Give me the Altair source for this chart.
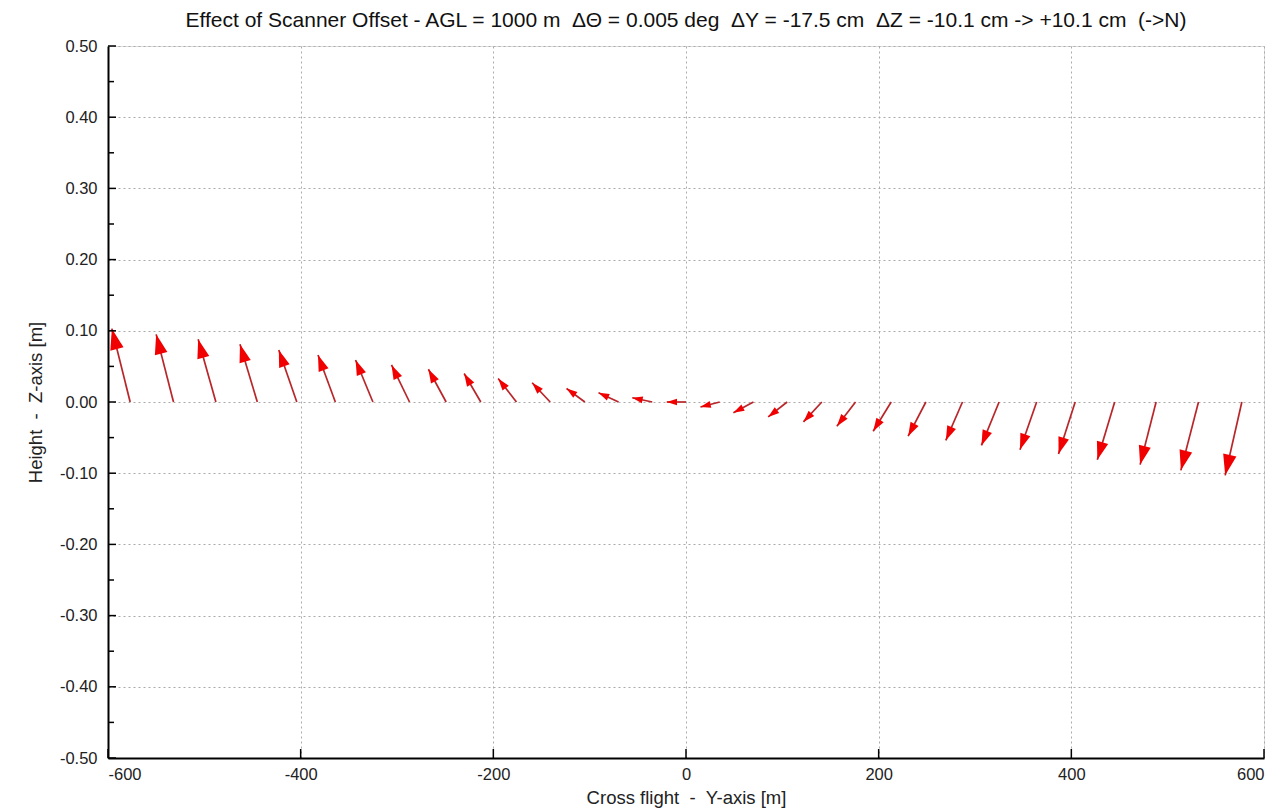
import math
import altair as alt
import pandas as pd

# ---- data ----
base_y = [-577, -532, -488, -445, -404, -364, -325, -287, -249, -213, -176, -141, -105, -70, -35,
          0, 35, 70, 105, 141, 176, 213, 249, 287, 325, 364, 404, 445, 488, 532, 577]
shift_y = [-19.0, -18.0, -18.4, -18.0, -18.7, -18.0, -18.0, -18.7, -18.4, -17.3, -19.0, -18.7, -19.0, -20.8, -20.8,
           -20.0, -20.0, -20.8, -19.7, -19.1, -19.4, -18.7, -18.4, -17.3, -18.3, -17.3, -17.3, -18.0, -16.6, -18.3, -17.3]
shift_z = [0.103, 0.095, 0.088, 0.081, 0.073, 0.066, 0.059, 0.052, 0.046, 0.040, 0.033, 0.027, 0.019, 0.013, 0.006,
           0.000, -0.007, -0.015, -0.021, -0.028, -0.034, -0.041, -0.048, -0.054, -0.061, -0.067, -0.073, -0.081, -0.088, -0.096, -0.103]

x_ticks = [-600, -400, -200, 0, 200, 400, 600]
y_major = [-0.5, -0.4, -0.3, -0.2, -0.1, 0.0, 0.1, 0.2, 0.3, 0.4, 0.5]
y_minor = [-0.45, -0.35, -0.25, -0.15, -0.05, 0.05, 0.15, 0.25, 0.35, 0.45]

TITLE = ("Effect of Scanner Offset - AGL = 1000 m\u00a0\u00a0\u0394\u0398 = 0.005 deg\u00a0\u00a0"
         "\u0394Y = -17.5 cm\u00a0\u00a0\u0394Z = -10.1 cm -> +10.1 cm\u00a0\u00a0(->N)")

W, H = 1156, 712
X_DOM = [-600, 600]
Y_DOM = [-0.5, 0.5]
FONT = "Liberation Sans"

# ---- build table ----
sx = W / (X_DOM[1] - X_DOM[0])
sz = H / (Y_DOM[1] - Y_DOM[0])
rows = []
for b, dy, dz in zip(base_y, shift_y, shift_z):
    vx, vup = dy * sx, dz * sz
    length = math.hypot(vx, vup)
    ang = math.degrees(math.atan2(vx, vup)) % 360
    head = 6.6 + 0.19 * length
    rows.append(dict(y0=b, z0=0.0, y1=b + dy, z1=dz, angle=ang, size=head * head))
df = pd.DataFrame(rows)

xs = alt.Scale(domain=X_DOM, nice=False, zero=False)
ys = alt.Scale(domain=Y_DOM, nice=False, zero=False)

x_axis = alt.Axis(values=x_ticks, labelExpr="replace(format(datum.value, 'd'), '\u2212', '-')",
                  grid=True, gridDash=[2, 3], gridColor="#aaaaaa",
                  gridWidth=1, ticks=False, tickSize=0, domainColor="black", domainWidth=2,
                  labelFont=FONT, labelFontSize=16.5, labelColor="#222222", labelPadding=8,
                  title="Cross flight\u00a0\u00a0-\u00a0\u00a0Y-axis [m]", titleFont=FONT,
                  titleFontSize=18.5, titleFontWeight="normal", titleColor="#222222", titlePadding=6)
y_axis = alt.Axis(values=y_major, labelExpr="replace(format(datum.value, '.2f'), '\u2212', '-')",
                  grid=True, gridDash=[2, 3], gridColor="#aaaaaa",
                  gridWidth=1, ticks=False, tickSize=0, domainColor="black", domainWidth=2,
                  labelFont=FONT, labelFontSize=16.5, labelColor="#222222", labelPadding=11,
                  title="Height\u00a0\u00a0-\u00a0\u00a0Z-axis [m]", titleFont=FONT,
                  titleFontSize=18.5, titleFontWeight="normal", titleColor="#222222", titlePadding=14)

shafts = alt.Chart(df).mark_rule(color="#b8262a", strokeWidth=1.7).encode(
    x=alt.X("y0:Q", scale=xs, axis=x_axis),
    y=alt.Y("z0:Q", scale=ys, axis=y_axis),
    x2="y1:Q",
    y2="z1:Q",
)

heads = alt.Chart(df).mark_point(
    shape="M0,0 L-0.65,2 L0.65,2 Z", filled=True, fill="#f00000", strokeWidth=0, opacity=1
).encode(
    x=alt.X("y1:Q", scale=xs),
    y=alt.Y("z1:Q", scale=ys),
    angle=alt.Angle("angle:Q", scale=None),
    size=alt.Size("size:Q", scale=None),
)

ymaj = alt.Chart(pd.DataFrame({"v": y_major})).mark_rule(color="black", strokeWidth=1.5).encode(
    y=alt.Y("v:Q", scale=ys), x=alt.value(0), x2=alt.value(8))
ymin = alt.Chart(pd.DataFrame({"v": y_minor})).mark_rule(color="black", strokeWidth=1.5).encode(
    y=alt.Y("v:Q", scale=ys), x=alt.value(0), x2=alt.value(6))
xmaj = alt.Chart(pd.DataFrame({"v": x_ticks})).mark_rule(color="black", strokeWidth=1.5).encode(
    x=alt.X("v:Q", scale=xs), y=alt.value(H), y2=alt.value(H - 9))

chart = alt.layer(shafts, heads, ymaj, ymin, xmaj).properties(
    width=W, height=H,
    title=alt.Title(TITLE, font=FONT, fontSize=21, fontWeight="normal", color="#111111",
                    anchor="middle", offset=7),
    padding={"left": 100, "top": 38, "right": 16, "bottom": 52},
    autosize=alt.AutoSizeParams(type="none"),
).configure_view(stroke="black", strokeWidth=1).configure(background="white")

chart.save("out.html", embed_options={"renderer": "svg", "actions": False})
